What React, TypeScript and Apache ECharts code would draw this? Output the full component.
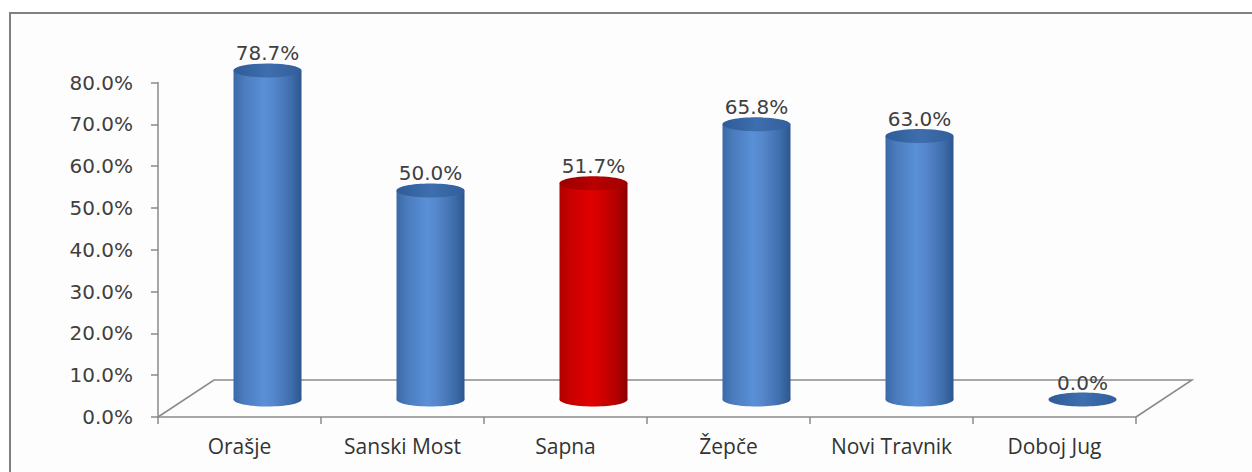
import React, { useEffect, useRef } from "react";
import * as echarts from "echarts";

const categories = ["Orašje", "Sanski Most", "Sapna", "Žepče", "Novi Travnik", "Doboj Jug"];
const values = [78.7, 50.0, 51.7, 65.8, 63.0, 0.0];
const highlighted = [false, false, true, false, false, false];
const yMin = 0;
const yMax = 80;
const yInterval = 10;

const DX = 56;
const DY = 37;
const RX = 34;
const RY = 7;

const blueBody = [
  { offset: 0, color: "#3c69a6" },
  { offset: 0.15, color: "#4a7bbd" },
  { offset: 0.45, color: "#5990d6" },
  { offset: 0.6, color: "#5586cb" },
  { offset: 0.85, color: "#3e6dab" },
  { offset: 1, color: "#2c568f" },
];
const redBody = [
  { offset: 0, color: "#b00000" },
  { offset: 0.15, color: "#c80000" },
  { offset: 0.45, color: "#e00000" },
  { offset: 0.6, color: "#d40000" },
  { offset: 0.85, color: "#b20000" },
  { offset: 1, color: "#8a0000" },
];
const blueTop = [
  { offset: 0, color: "#2f5c98" },
  { offset: 0.5, color: "#3e6eae" },
  { offset: 1, color: "#325f9c" },
];
const redTop = [
  { offset: 0, color: "#9a0000" },
  { offset: 0.5, color: "#b80000" },
  { offset: 1, color: "#a00000" },
];

export default function App() {
  const ref = useRef<HTMLDivElement>(null);
  useEffect(() => {
    if (!ref.current) return;
    const chart = echarts.init(ref.current, null, { renderer: "svg" });
    const option: any = {
      animation: false,
      backgroundColor: "transparent",
      grid: { left: 158, right: 116, top: 82.5, bottom: 55, containLabel: false },
      xAxis: {
        type: "category",
        data: categories,
        boundaryGap: true,
        axisLine: { show: true, lineStyle: { color: "#8a8a8a", width: 1.5 } },
        axisTick: { show: true, length: 7, interval: 0, lineStyle: { color: "#8a8a8a", width: 1.5 } },
        axisLabel: {
          interval: 0,
          margin: 18,
          color: "#333333",
          fontFamily: "Open Sans",
          fontSize: 21,
        },
        splitLine: { show: false },
      },
      yAxis: {
        type: "value",
        min: yMin,
        max: yMax,
        interval: yInterval,
        axisLine: { show: true, lineStyle: { color: "#8a8a8a", width: 1.5 } },
        axisTick: { show: true, length: 7, lineStyle: { color: "#8a8a8a", width: 1.5 } },
        axisLabel: {
          margin: 25,
          color: "#404040",
          fontFamily: "DejaVu Sans",
          fontSize: 20,
          formatter: (v: number) => v.toFixed(1) + "%",
        },
        splitLine: { show: false },
      },
      series: [
        {
          type: "custom",
          z: 1,
          clip: false,
          silent: true,
          data: [[0, 0]],
          encode: { x: 0, y: 1 },
          renderItem: (params: any, api: any) => {
            const p = api.coord([0, 0]);
            const band = api.size([1, 0])[0];
            const x0 = p[0] - band / 2;
            const x1 = x0 + band * categories.length;
            const y = p[1];
            return {
              type: "polyline",
              shape: { points: [[x0, y], [x0 + DX, y - DY], [x1 + DX, y - DY], [x1, y]] },
              style: { stroke: "#8a8a8a", lineWidth: 1.5, fill: "none" },
            };
          },
        },
        {
          type: "custom",
          z: 3,
          clip: false,
          data: values.map((v, i) => [i, v]),
          encode: { x: 0, y: 1 },
          renderItem: (params: any, api: any) => {
            const idx = api.value(0);
            const v = api.value(1);
            const top = api.coord([idx, v]);
            const base = api.coord([idx, 0]);
            const cx = base[0] + DX / 2;
            const by = base[1] - DY / 2 + 1;
            const ty = top[1] - DY / 2 + 1;
            const red = highlighted[idx];
            const bodyFill = new echarts.graphic.LinearGradient(0, 0, 1, 0, red ? redBody : blueBody);
            const topFill = new echarts.graphic.LinearGradient(0, 0, 1, 0, red ? redTop : blueTop);
            const children: any[] = [];
            if (v > 0) {
              children.push({
                type: "ellipse",
                shape: { cx, cy: by, rx: RX, ry: RY },
                style: { fill: bodyFill },
              });
              children.push({
                type: "rect",
                shape: { x: cx - RX, y: ty, width: RX * 2, height: by - ty },
                style: { fill: bodyFill },
              });
            }
            children.push({
              type: "ellipse",
              shape: { cx, cy: ty, rx: RX, ry: RY },
              style: { fill: topFill },
            });
            children.push({
              type: "text",
              style: {
                text: v.toFixed(1) + "%",
                x: cx,
                y: ty - 17,
                align: "center",
                verticalAlign: "middle",
                fill: "#404040",
                font: '20px "DejaVu Sans"',
              },
            });
            return { type: "group", children };
          },
        },
      ],
    };
    chart.setOption(option);
    return () => chart.dispose();
  }, []);

  return (
    <div style={{ position: "fixed", left: 0, top: 0, width: 1252, height: 472, background: "#ffffff", overflow: "hidden" }}>
      <div
        style={{
          position: "absolute",
          left: 9,
          top: 12,
          width: 1300,
          height: 520,
          border: "2px solid #808080",
          background: "#fdfdfd",
          boxSizing: "border-box",
        }}
      />
      <div ref={ref} style={{ position: "absolute", left: 0, top: 0, width: 1252, height: 472 }} />
    </div>
  );
}
